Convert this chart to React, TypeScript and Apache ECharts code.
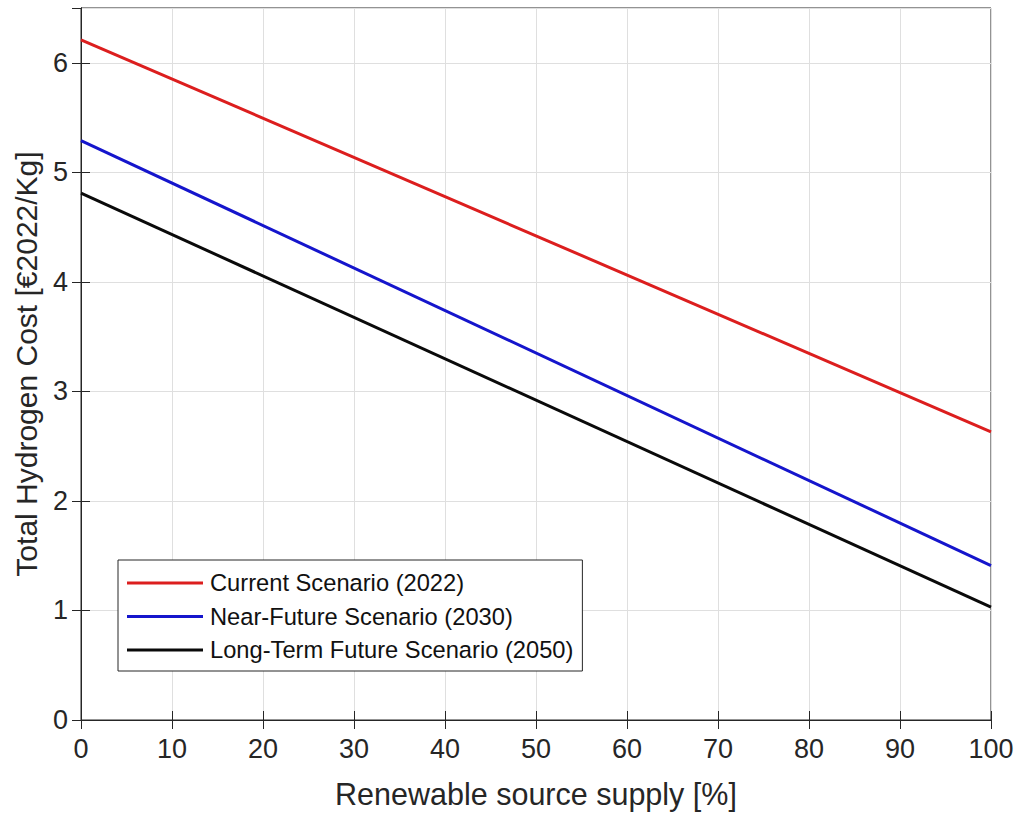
import React, { useEffect, useRef } from "react";
import * as echarts from "echarts";

const supply = [0, 100];
const currentScenario = [6.21, 2.63];
const nearFuture = [5.29, 1.41];
const longTerm = [4.81, 1.03];
const seriesNames = [
  "Current Scenario (2022)",
  "Near-Future Scenario (2030)",
  "Long-Term Future Scenario (2050)",
];
const seriesColors = ["#dc1e1e", "#1515cc", "#0a0a0a"];

const TXT = "#262626";
const FONT = "'Liberation Sans', Arial, Helvetica, sans-serif";

export default function App() {
  const ref = useRef<HTMLDivElement>(null);
  useEffect(() => {
    if (!ref.current) return;
    const chart = echarts.init(ref.current, undefined, { renderer: "svg" });
    const values = [currentScenario, nearFuture, longTerm];
    const series = values.map((vals, i) => ({
      name: seriesNames[i],
      type: "line" as const,
      data: supply.map((x, j) => [x, vals[j]]),
      symbol: "none",
      lineStyle: { color: seriesColors[i], width: 3 },
      itemStyle: { color: seriesColors[i] },
      xAxisIndex: 0,
      yAxisIndex: 0,
    }));
    chart.setOption({
      animation: false,
      backgroundColor: "#ffffff",
      textStyle: { fontFamily: FONT },
      grid: {
        left: 81,
        right: 29,
        top: 8,
        bottom: 90,
        show: true,
        borderColor: TXT,
        borderWidth: 1,
        backgroundColor: "#ffffff",
      },
      legend: {
        orient: "vertical",
        left: 118,
        top: 560,
        icon: "rect",
        itemWidth: 76,
        itemHeight: 3,
        itemGap: 9.5,
        padding: [11, 9, 9, 9],
        backgroundColor: "#ffffff",
        borderColor: TXT,
        borderWidth: 1,
        borderRadius: 0,
        textStyle: {
          color: "#111111",
          fontSize: 23.7,
          lineHeight: 24,
          fontFamily: FONT,
          padding: [0, 0, 0, 2],
        },
        data: seriesNames,
      },
      xAxis: [
        {
          type: "value",
          min: 0,
          max: 100,
          interval: 10,
          name: "Renewable source supply [%]",
          nameLocation: "middle",
          nameGap: 58,
          nameTextStyle: { color: TXT, fontSize: 30.5, fontFamily: FONT },
          axisLine: { show: true, lineStyle: { color: TXT, width: 1 } },
          axisTick: { show: true, inside: true, length: 9, lineStyle: { color: TXT } },
          axisLabel: { color: TXT, fontSize: 27, margin: 15, fontFamily: FONT },
          splitLine: { show: true, lineStyle: { color: "#dfdfdf", width: 1 } },
        },
        {
          type: "value",
          position: "top",
          min: 0,
          max: 100,
          interval: 10,
          axisLine: { show: true, lineStyle: { color: TXT, width: 1 } },
          axisTick: { show: true, inside: true, length: 9, lineStyle: { color: TXT } },
          axisLabel: { show: false },
          splitLine: { show: false },
        },
      ],
      yAxis: [
        {
          type: "value",
          min: 0,
          max: 6.5,
          interval: 1,
          name: "Total Hydrogen Cost [€2022/Kg]",
          nameLocation: "middle",
          nameGap: 40,
          nameTextStyle: { color: TXT, fontSize: 30, fontFamily: FONT },
          axisLine: { show: true, lineStyle: { color: TXT, width: 1 } },
          axisTick: { show: true, inside: true, length: 9, lineStyle: { color: TXT } },
          axisLabel: {
            color: TXT,
            fontSize: 27,
            margin: 13,
            fontFamily: FONT,
            showMaxLabel: false,
          },
          splitLine: { show: true, lineStyle: { color: "#dfdfdf", width: 1 } },
        },
        {
          type: "value",
          position: "right",
          min: 0,
          max: 6.5,
          interval: 1,
          axisLine: { show: true, lineStyle: { color: TXT, width: 1 } },
          axisTick: { show: true, inside: true, length: 9, lineStyle: { color: TXT } },
          axisLabel: { show: false },
          splitLine: { show: false },
        },
      ],
      series,
    });
    return () => chart.dispose();
  }, []);
  return (
    <div
      ref={ref}
      style={{ position: "fixed", left: 0, top: 0, width: 1020, height: 814, background: "#fff" }}
    />
  );
}
